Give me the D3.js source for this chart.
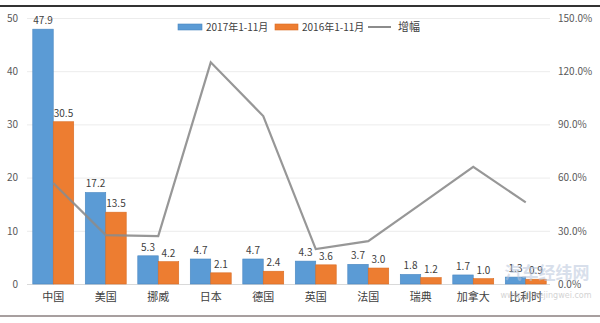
<!DOCTYPE html>
<html><head><meta charset="utf-8">
<script src="https://cdn.jsdelivr.net/npm/d3@7"></script>
<style>body{margin:0;background:#fff}svg{display:block}</style>
</head><body>
<svg id="c" width="600" height="323"></svg>
<script>
const categories = ["中国","美国","挪威","日本","德国","英国","法国","瑞典","加拿大","比利时"];
const sales2017 = [47.9,17.2,5.3,4.7,4.7,4.3,3.7,1.8,1.7,1.3];
const sales2016 = [30.5,13.5,4.2,2.1,2.4,3.6,3.0,1.2,1.0,0.9];
const growth = [0.57,0.276,0.27,1.25,0.947,0.197,0.242,0.45,0.66,0.46];
const leftTicks = [0,10,20,30,40,50];
const rightTicks = [0,0.3,0.6,0.9,1.2,1.5];
const seriesNames = ["2017年1-11月","2016年1-11月","增幅"];

const font = "'Noto Sans CJK SC','Noto Sans',sans-serif";
const svg = d3.select("#c");
const x = d3.scaleBand().domain(categories).range([27,552]).paddingInner(0.22).paddingOuter(0.11);
const y = d3.scaleLinear().domain([0,50]).range([284,18]);
const y2 = d3.scaleLinear().domain([0,1.5]).range([284,18]);
const bw = x.bandwidth()/2;

// frame lines of the screenshot
svg.append("line").attr("x1",0).attr("x2",600).attr("y1",6).attr("y2",6).attr("stroke","#333").attr("stroke-width",2);
svg.append("line").attr("x1",0).attr("x2",600).attr("y1",316).attr("y2",316).attr("stroke","#8a7f7f").attr("stroke-width",1.5);

// gridlines
svg.append("g").selectAll("line").data(leftTicks).join("line")
  .attr("x1",27).attr("x2",550).attr("y1",d=>y(d)+0.5).attr("y2",d=>y(d)+0.5)
  .attr("stroke",d=>d===0?"#d9d9d9":"#ececec").attr("stroke-width",1);

// left axis
const la = svg.append("g").attr("transform","translate(20,0)")
  .call(d3.axisLeft(y).tickValues(leftTicks).tickSize(0).tickPadding(2));
la.select(".domain").remove();
la.selectAll("text").attr("font-family",font).attr("font-size",10).attr("fill","#595959");

// right axis
const ra = svg.append("g").attr("transform","translate(556,0)")
  .call(d3.axisRight(y2).tickValues(rightTicks).tickSize(0).tickPadding(2).tickFormat(d=>(d*100).toFixed(1)+"%"));
ra.select(".domain").remove();
ra.selectAll("text").attr("font-family",font).attr("font-size",10).attr("fill","#595959");

// bottom axis labels
const ba = svg.append("g").attr("transform","translate(0,284)")
  .call(d3.axisBottom(x).tickSize(0).tickPadding(9));
ba.select(".domain").remove();
ba.selectAll("text").attr("font-family",font).attr("font-size",11).attr("fill","#404040");

// bars
const g = svg.append("g");
g.selectAll(".b17").data(categories).join("rect").attr("class","b17")
  .attr("x",d=>x(d)).attr("width",bw)
  .attr("y",(d,i)=>y(sales2017[i])).attr("height",(d,i)=>y(0)-y(sales2017[i]))
  .attr("fill","#5b9bd5").attr("stroke","#4a87c0").attr("stroke-width",0.6);
g.selectAll(".b16").data(categories).join("rect").attr("class","b16")
  .attr("x",d=>x(d)+bw).attr("width",bw)
  .attr("y",(d,i)=>y(sales2016[i])).attr("height",(d,i)=>y(0)-y(sales2016[i]))
  .attr("fill","#ed7d31").attr("stroke","#d96b22").attr("stroke-width",0.6);

// data labels
g.selectAll(".l17").data(categories).join("text").attr("class","l17")
  .attr("x",d=>x(d)+bw/2).attr("y",(d,i)=>y(sales2017[i])-5)
  .attr("text-anchor","middle").attr("font-family",font).attr("font-size",10).attr("fill","#404040")
  .text((d,i)=>sales2017[i].toFixed(1));
g.selectAll(".l16").data(categories).join("text").attr("class","l16")
  .attr("x",d=>x(d)+bw*1.5).attr("y",(d,i)=>y(sales2016[i])-5)
  .attr("text-anchor","middle").attr("font-family",font).attr("font-size",10).attr("fill","#404040")
  .text((d,i)=>sales2016[i].toFixed(1));

// growth line
const line = d3.line().x((d,i)=>x(categories[i])+x.bandwidth()/2).y(d=>y2(d));
svg.append("path").datum(growth).attr("d",line).attr("fill","none")
  .attr("stroke","#8c8c8c").attr("stroke-width",2.2).attr("stroke-opacity",0.9).attr("stroke-linejoin","miter");

// legend
const lg = svg.append("g").attr("font-family",font).attr("font-size",10).attr("fill","#404040");
lg.append("rect").attr("x",178).attr("y",24).attr("width",24).attr("height",6).attr("fill","#5b9bd5").attr("stroke","#4a87c0").attr("stroke-width",0.6);
lg.append("text").attr("x",206).attr("y",31).text(seriesNames[0]);
lg.append("rect").attr("x",275).attr("y",24).attr("width",23).attr("height",6).attr("fill","#ed7d31").attr("stroke","#d96b22").attr("stroke-width",0.6);
lg.append("text").attr("x",302).attr("y",31).text(seriesNames[1]);
lg.append("line").attr("x1",368).attr("x2",391).attr("y1",27).attr("y2",27).attr("stroke","#8c8c8c").attr("stroke-width",2);
lg.append("text").attr("x",398).attr("y",31).attr("font-size",11).text(seriesNames[2]);

// watermark
const wm = svg.append("g").attr("opacity",0.55);
wm.append("text").attr("x",547).attr("y",279).attr("text-anchor","middle").attr("font-family",font)
  .attr("font-size",17).attr("font-weight","bold").attr("fill","#b9c6dc").text("汽车经纬网");
wm.append("text").attr("x",546).attr("y",298).attr("text-anchor","middle").attr("font-family","'DejaVu Sans',sans-serif")
  .attr("font-size",8).attr("fill","#b0b0b0").text("www.qichejingwei.com");
</script>
</body></html>
